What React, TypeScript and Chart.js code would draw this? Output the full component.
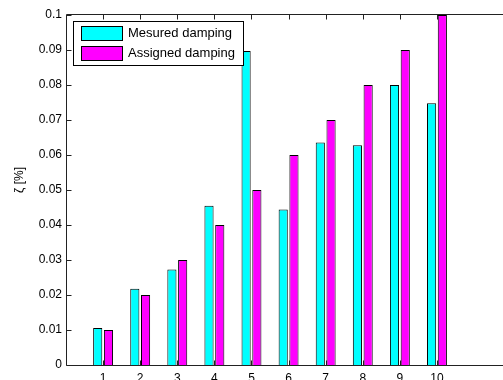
import React, { useEffect, useRef } from 'react';
import { Chart, registerables } from 'chart.js';

Chart.register(...registerables);

const modes = [1, 2, 3, 4, 5, 6, 7, 8, 9, 10];
const measuredDamping = [0.0106, 0.0218, 0.0273, 0.0455, 0.0897, 0.0444, 0.0636, 0.0628, 0.08, 0.0748];
const assignedDamping = [0.01, 0.02, 0.03, 0.04, 0.05, 0.06, 0.07, 0.08, 0.09, 0.1];
const yTickValues = [0, 0.01, 0.02, 0.03, 0.04, 0.05, 0.06, 0.07, 0.08, 0.09, 0.1];
const seriesNames = ['Mesured damping', 'Assigned damping'];
const seriesColors = ['#00FFFF', '#FF00FF'];
const yAxisTitle = 'ζ [%]';

const AXIS_COLOR = '#222';

const framePlugin = {
  id: 'matlabFrame',
  afterDatasetsDraw(chart: any) {
    const { ctx, chartArea, scales } = chart;
    const xs = scales.x;
    const ys = scales.y;
    const L = Math.round(chartArea.left) + 0.5;
    const T = Math.round(chartArea.top) - 0.5;
    const B = Math.round(chartArea.bottom) + 0.5;
    const R = chart.width;
    ctx.save();
    ctx.strokeStyle = AXIS_COLOR;
    ctx.lineWidth = 1;
    ctx.beginPath();
    ctx.moveTo(L, B);
    ctx.lineTo(L, T);
    ctx.lineTo(R, T);
    ctx.moveTo(L, B);
    ctx.lineTo(R, B);
    modes.forEach((m) => {
      const px = Math.round(xs.getPixelForValue(m)) + 0.5;
      ctx.moveTo(px, B);
      ctx.lineTo(px, B - 5);
      ctx.moveTo(px, T);
      ctx.lineTo(px, T + 5);
    });
    yTickValues.forEach((v) => {
      const py = Math.round(ys.getPixelForValue(v)) + 0.5;
      ctx.moveTo(L, py);
      ctx.lineTo(L + 5, py);
    });
    ctx.stroke();

    // legend
    ctx.fillStyle = '#fff';
    ctx.fillRect(73.5, 21.5, 170, 44);
    ctx.strokeStyle = '#000';
    ctx.strokeRect(73.5, 21.5, 170, 44);
    ctx.font = '13px "Liberation Sans", Arial, sans-serif';
    ctx.textBaseline = 'middle';
    ctx.textAlign = 'left';
    seriesNames.forEach((name, i) => {
      const top = 26.5 + i * 20;
      ctx.fillStyle = seriesColors[i];
      ctx.fillRect(81.5, top, 41, 14);
      ctx.strokeStyle = '#000';
      ctx.strokeRect(81.5, top, 41, 14);
      ctx.fillStyle = '#000';
      ctx.fillText(name, 128, top + 7);
    });

    // y axis title
    ctx.translate(20, 180);
    ctx.rotate(-Math.PI / 2);
    ctx.textAlign = 'center';
    ctx.textBaseline = 'middle';
    ctx.font = '12px "Liberation Sans", Arial, sans-serif';
    ctx.fillStyle = '#000';
    ctx.fillText(yAxisTitle, 0, 0);
    ctx.restore();
  },
};

export default function App() {
  const canvasRef = useRef<HTMLCanvasElement | null>(null);

  useEffect(() => {
    const canvas = canvasRef.current;
    if (!canvas) return;
    const chart = new Chart(canvas, {
      type: 'bar',
      data: {
        datasets: [
          {
            label: seriesNames[0],
            data: modes.map((m, i) => ({ x: m, y: measuredDamping[i] })),
            backgroundColor: seriesColors[0],
            borderColor: '#000',
            borderWidth: 1,
          },
          {
            label: seriesNames[1],
            data: modes.map((m, i) => ({ x: m, y: assignedDamping[i] })),
            backgroundColor: seriesColors[1],
            borderColor: '#000',
            borderWidth: 1,
          },
        ],
      },
      options: {
        responsive: false,
        animation: false,
        devicePixelRatio: 1,
        categoryPercentage: 0.58,
        barPercentage: 0.85,
        layout: { padding: { top: 15, left: 0, right: 0, bottom: 0 } },
        plugins: {
          legend: { display: false },
          tooltip: { enabled: false },
          title: { display: false },
        },
        scales: {
          x: {
            type: 'linear',
            min: 0,
            max: 11.78,
            offset: false,
            grid: { display: false, offset: false, drawTicks: false, tickLength: 0 },
            border: { display: false },
            afterBuildTicks: (scale: any) => {
              scale.ticks = modes.map((v) => ({ value: v }));
            },
            afterFit: (scale: any) => {
              scale.height = 35;
            },
            ticks: {
              padding: 6,
              maxRotation: 0,
              autoSkip: false,
              color: '#000',
              font: { family: '"Liberation Sans", Arial, sans-serif', size: 12 },
              callback: (v: any) => String(v),
            },
          },
          y: {
            type: 'linear',
            min: 0,
            max: 0.1,
            grid: { display: false, drawTicks: false, tickLength: 0 },
            border: { display: false },
            afterBuildTicks: (scale: any) => {
              scale.ticks = yTickValues.map((v) => ({ value: v }));
            },
            afterFit: (scale: any) => {
              scale.width = 66;
            },
            ticks: {
              padding: 4,
              color: '#000',
              font: { family: '"Liberation Sans", Arial, sans-serif', size: 12 },
              callback: (v: any) => (v === 0 ? '0' : String(Number(Number(v).toFixed(2)))),
            },
          },
        },
      },
      plugins: [framePlugin],
    });
    return () => chart.destroy();
  }, []);

  return (
    <div
      style={{
        position: 'absolute',
        left: 0,
        top: 0,
        width: 503,
        height: 380,
        overflow: 'hidden',
        background: '#fff',
      }}
    >
      <canvas ref={canvasRef} width={503} height={400} style={{ display: 'block' }} />
    </div>
  );
}
